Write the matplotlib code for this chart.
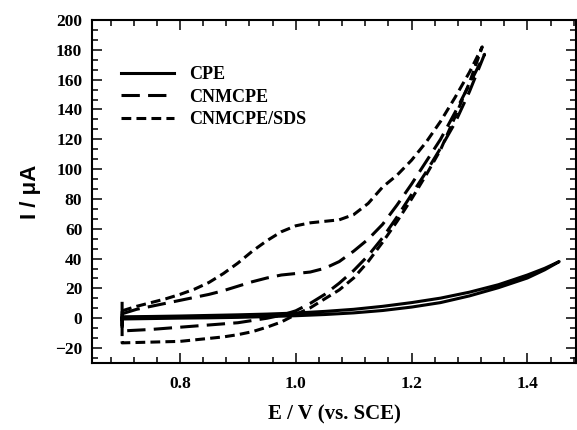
import matplotlib.pyplot as plt
from matplotlib.ticker import MultipleLocator, AutoMinorLocator

# cyclic voltammograms
# CPE: forward then reverse scan
cpe_e = [0.700, 0.700, 0.700, 0.703, 0.75, 0.80, 0.85, 0.90, 0.95, 1.00, 1.05, 1.10, 1.15,
         1.20, 1.25, 1.30, 1.35, 1.40, 1.43, 1.455,
         1.43, 1.40, 1.35, 1.30, 1.25, 1.20, 1.15, 1.10, 1.05, 1.00, 0.95, 0.90,
         0.85, 0.80, 0.75, 0.70]
cpe_i = [10.0, -5.0, 1.0, 1.0, 1.2, 1.5, 1.9, 2.3, 2.8, 3.5, 4.6, 6.0, 8.0,
         10.5, 13.5, 17.5, 22.5, 29.0, 33.5, 38.0,
         32.5, 27.0, 20.5, 15.0, 10.5, 7.5, 5.2, 3.6, 2.5, 1.7, 1.1, 0.6,
         0.3, 0.1, -0.2, -0.5]

# CNMCPE
cnm_e = [0.700, 0.725, 0.75, 0.775, 0.80, 0.825, 0.85, 0.875, 0.90, 0.925, 0.95, 0.975,
         1.00, 1.025, 1.05, 1.075, 1.10, 1.125, 1.15, 1.175, 1.20, 1.225, 1.25, 1.275,
         1.30, 1.326,
         1.30, 1.275, 1.25, 1.225, 1.20, 1.175, 1.15, 1.125, 1.10, 1.075, 1.05, 1.025,
         1.00, 0.975, 0.95, 0.925, 0.90, 0.85, 0.80, 0.75, 0.70, 0.70]
cnm_i = [3.0, 6.0, 8.0, 10.0, 12.0, 14.0, 16.0, 18.5, 21.5, 24.5, 27.0, 29.0,
         30.0, 31.0, 33.5, 38.0, 45.0, 53.0, 63.0, 76.0, 90.0, 105.0, 120.0, 138.0,
         157.0, 177.0,
         152.0, 131.0, 114.0, 98.0, 83.0, 68.0, 54.0, 42.0, 32.0, 23.5, 16.0, 10.0,
         5.0, 2.0, 0.0, -1.5, -3.0, -4.5, -6.0, -7.5, -8.5, 3.0]

# CNMCPE/SDS
sds_e = [0.700, 0.725, 0.75, 0.775, 0.80, 0.825, 0.85, 0.875, 0.90, 0.925, 0.95, 0.975,
         1.00, 1.025, 1.05, 1.075, 1.10, 1.125, 1.15, 1.175, 1.20, 1.225, 1.25, 1.275,
         1.30, 1.322,
         1.30, 1.275, 1.25, 1.225, 1.20, 1.175, 1.15, 1.125, 1.10, 1.075, 1.05, 1.025,
         1.00, 0.975, 0.95, 0.925, 0.90, 0.875, 0.85, 0.80, 0.75, 0.70, 0.70]
sds_i = [5.0, 8.0, 10.5, 13.0, 16.0, 19.5, 24.0, 30.0, 37.0, 45.0, 52.0, 58.0,
         62.0, 64.0, 65.0, 66.0, 69.5, 77.0, 88.0, 96.0, 106.0, 118.0, 132.0, 148.0,
         165.0, 182.0,
         158.0, 135.0, 113.0, 96.0, 80.0, 65.0, 51.0, 38.0, 27.0, 19.0, 13.0, 7.0,
         2.5, -2.5, -6.0, -9.0, -11.0, -12.5, -13.5, -15.5, -16.0, -16.5, 5.0]

labels = ['CPE', 'CNMCPE', 'CNMCPE/SDS']

serif = 'Liberation Serif'

fig = plt.figure(figsize=(5.77, 4.30), dpi=100)
ax = fig.add_axes([92 / 577, 1 - 363 / 430, 484 / 577, 343 / 430])

ax.plot(cpe_e, cpe_i, color='black', lw=2.2, ls='-', label=labels[0])
ax.plot(cnm_e, cnm_i, color='black', lw=2.2, ls=(0, (6, 2.7)), label=labels[1])
ax.plot(sds_e, sds_i, color='black', lw=2.2, ls=(0, (3.2, 1.7)), label=labels[2])

ax.set_xlim(0.648, 1.484)
ax.set_ylim(-30, 200)
ax.xaxis.set_major_locator(MultipleLocator(0.2))
ax.xaxis.set_minor_locator(AutoMinorLocator(5))
ax.yaxis.set_major_locator(MultipleLocator(20))
ax.yaxis.set_minor_locator(AutoMinorLocator(3))
ax.xaxis.set_major_formatter(plt.FuncFormatter(lambda v, p: '%.1f' % v))

ax.tick_params(which='both', direction='in', top=True, right=True, width=1.1)
ax.tick_params(which='major', length=7)
ax.tick_params(which='minor', length=4)
ax.tick_params(axis='y', pad=7)
ax.tick_params(axis='x', pad=9)
for lab in ax.get_xticklabels() + ax.get_yticklabels():
    lab.set_fontfamily(serif)
    lab.set_fontweight('bold')
    lab.set_fontsize(12.5)
for sp in ax.spines.values():
    sp.set_linewidth(1.5)

ax.set_xlabel('E / V (vs. SCE)', fontfamily=serif, fontweight='bold', fontsize=15, labelpad=9)
ax.set_ylabel('I / \u03bcA', fontfamily='Liberation Sans', fontweight='bold', fontsize=16, labelpad=10)

leg = ax.legend(loc='upper left', bbox_to_anchor=(0.027, 0.9125), frameon=False,
                handlelength=2.93, handletextpad=0.83, labelspacing=0.3,
                prop={'family': serif, 'weight': 'bold', 'size': 13})

fig.savefig('out.png', dpi=100)
